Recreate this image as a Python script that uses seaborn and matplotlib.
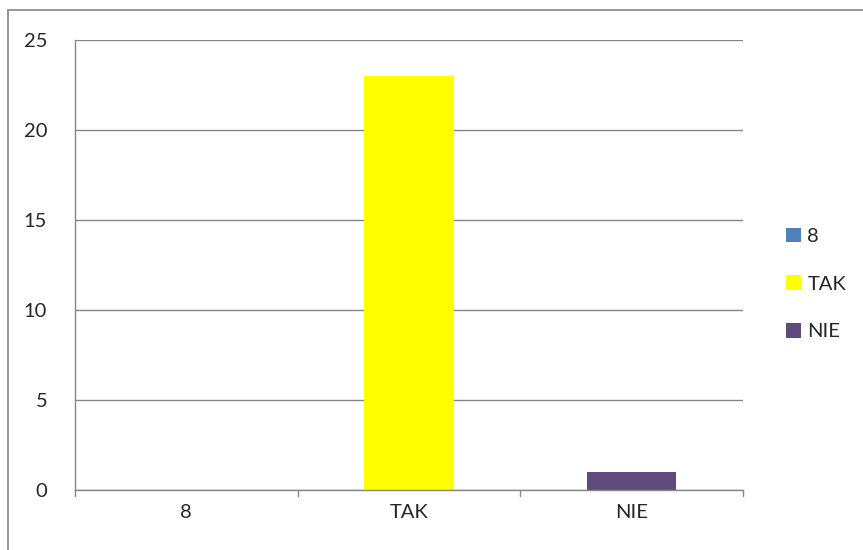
import matplotlib
matplotlib.use("Agg")
import matplotlib.pyplot as plt
import seaborn as sns
import pandas as pd
from matplotlib.lines import Line2D
from matplotlib.patches import Patch

categories = ["8", "TAK", "NIE"]
values = [0, 23, 1]
colors = ["#4F81BD", "#FFFF00", "#604A7B"]
yticks = [0, 5, 10, 15, 20, 25]

sns.set_style("white")
plt.rcParams['font.family'] = ['Lato', 'DejaVu Sans']
FS = 14.5

fig = plt.figure(figsize=(8.63, 5.50), dpi=100)
ax = fig.add_axes([75/863, 1-490/550, (743-75)/863, (490-40)/550])

df = pd.DataFrame({"cat": categories, "val": values})
sns.barplot(data=df, x="cat", y="val", hue="cat", palette=colors, dodge=False,
            width=0.4, ax=ax, legend=False, saturation=1, linewidth=0)

ax.set_ylim(0, 25)
ax.set_xlim(-0.5, 2.5)
ax.set_yticks(yticks)
ax.set_yticklabels([str(t) for t in yticks], fontsize=FS)
ax.set_xticks(range(3))
ax.set_xticklabels(categories, fontsize=FS)
ax.set_xlabel("")
ax.set_ylabel("")
gc = "#868686"
for y in yticks:
    ax.axhline(y, color=gc, lw=1, zorder=0)
for s in ["top", "right"]:
    ax.spines[s].set_visible(False)
for s in ["left", "bottom"]:
    ax.spines[s].set_color(gc)
    ax.spines[s].set_linewidth(1)
ax.tick_params(axis="y", length=6, color=gc, width=1, pad=14)
ax.tick_params(axis="x", length=0, pad=10)
for xb in [-0.5, 0.5, 1.5, 2.5]:
    ax.plot([xb, xb], [0, -0.013], transform=ax.get_xaxis_transform(),
            color=gc, lw=1, clip_on=False)

handles = [Patch(facecolor=c, edgecolor='none') for c in colors]
fig.legend(handles, categories, loc="center left", bbox_to_anchor=(768/863, 1-284/550),
           frameon=False, fontsize=FS, handlelength=0.75, handleheight=0.75,
           handletextpad=0.3, labelspacing=1.5)

fig.lines.append(Line2D([8/863, 1.0], [1-10/550, 1-10/550], transform=fig.transFigure,
                        color=gc, lw=1.2))
fig.lines.append(Line2D([8/863, 8/863], [0, 1-10/550], transform=fig.transFigure,
                        color=gc, lw=1.2))

fig.savefig("out.png", dpi=100)
